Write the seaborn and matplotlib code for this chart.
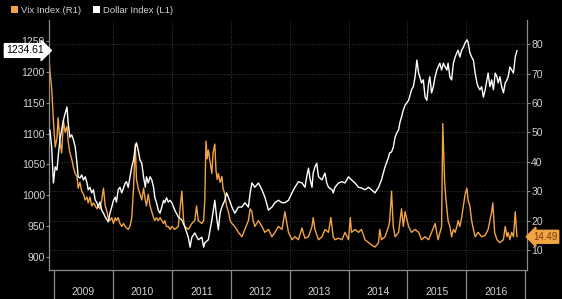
import matplotlib
matplotlib.use("Agg")
import matplotlib.pyplot as plt
import seaborn as sns
import numpy as np
from matplotlib.patches import Patch
from matplotlib.transforms import blended_transform_factory

# ---------------- data (decimal years) ----------------
dollar_year = [
    2008.93, 2008.96, 2008.99, 2009.02, 2009.05, 2009.07, 2009.10, 2009.13, 2009.16, 2009.19,
    2009.22, 2009.24, 2009.27, 2009.30, 2009.33, 2009.36, 2009.39, 2009.41, 2009.44, 2009.47,
    2009.50, 2009.53, 2009.56, 2009.58, 2009.61, 2009.64, 2009.67, 2009.70, 2009.73, 2009.75,
    2009.78, 2009.81, 2009.84, 2009.87, 2009.90, 2009.92, 2009.95, 2009.98, 2010.01, 2010.04,
    2010.06, 2010.09, 2010.12, 2010.15, 2010.18, 2010.21, 2010.23, 2010.26, 2010.29, 2010.32,
    2010.35, 2010.38, 2010.40, 2010.43, 2010.46, 2010.49, 2010.52, 2010.55, 2010.57, 2010.60,
    2010.63, 2010.66, 2010.69, 2010.71, 2010.74, 2010.77, 2010.80, 2010.83, 2010.86, 2010.88,
    2010.91, 2010.94, 2010.97, 2011.00, 2011.05, 2011.11, 2011.17, 2011.22, 2011.28, 2011.31,
    2011.34, 2011.39, 2011.45, 2011.51, 2011.54, 2011.56, 2011.62, 2011.68, 2011.73, 2011.76,
    2011.79, 2011.82, 2011.85, 2011.90, 2011.93, 2011.96, 2012.02, 2012.07, 2012.13, 2012.19,
    2012.24, 2012.30, 2012.33, 2012.36, 2012.41, 2012.47, 2012.53, 2012.58, 2012.64, 2012.70,
    2012.75, 2012.81, 2012.87, 2012.92, 2012.98, 2013.04, 2013.09, 2013.15, 2013.21, 2013.26,
    2013.29, 2013.32, 2013.35, 2013.38, 2013.40, 2013.43, 2013.46, 2013.49, 2013.55, 2013.60,
    2013.63, 2013.66, 2013.72, 2013.74, 2013.77, 2013.83, 2013.89, 2013.94, 2014.00, 2014.05,
    2014.11, 2014.17, 2014.22, 2014.28, 2014.34, 2014.39, 2014.45, 2014.51, 2014.56, 2014.59,
    2014.62, 2014.68, 2014.70, 2014.73, 2014.76, 2014.79, 2014.82, 2014.85, 2014.87, 2014.90,
    2014.93, 2014.96, 2015.02, 2015.07, 2015.10, 2015.13, 2015.16, 2015.19, 2015.21, 2015.24,
    2015.27, 2015.30, 2015.33, 2015.36, 2015.38, 2015.41, 2015.44, 2015.47, 2015.50, 2015.52,
    2015.55, 2015.58, 2015.61, 2015.64, 2015.67, 2015.69, 2015.72, 2015.75, 2015.78, 2015.81,
    2015.84, 2015.86, 2015.89, 2015.92, 2015.95, 2015.98, 2016.01, 2016.03, 2016.06, 2016.09,
    2016.12, 2016.15, 2016.18, 2016.20, 2016.23, 2016.26, 2016.29, 2016.32, 2016.35, 2016.37,
    2016.40, 2016.43, 2016.46, 2016.49, 2016.52, 2016.54, 2016.57, 2016.60, 2016.63, 2016.66,
    2016.69, 2016.71, 2016.74, 2016.77, 2016.80, 2016.83, 2016.86,
]
dollar_val = [
    1106, 1078, 1020, 1046, 1041, 1062, 1090, 1106, 1122, 1133,
    1143, 1117, 1094, 1098, 1090, 1078, 1052, 1030, 1028, 1033,
    1025, 1030, 1020, 1009, 1013, 1004, 1009, 992, 988, 981,
    989, 976, 971, 965, 960, 957, 971, 981, 992, 997,
    989, 1009, 1013, 1004, 1012, 1020, 1022, 1013, 1030, 1046,
    1057, 1078, 1085, 1073, 1057, 1052, 1030, 1013, 1030, 1020,
    1030, 1025, 1013, 997, 988, 976, 971, 981, 992, 988,
    996, 989, 992, 988, 976, 965, 960, 949, 932, 916,
    932, 939, 928, 932, 916, 923, 928, 960, 992, 965,
    944, 971, 981, 992, 1004, 997, 981, 971, 981, 981,
    988, 981, 1004, 1020, 1013, 1020, 1009, 997, 976, 981,
    988, 992, 988, 988, 992, 1004, 1013, 1022, 1020, 1013,
    1030, 1044, 1025, 1013, 1036, 1046, 1052, 1030, 1025, 1036,
    1020, 1013, 1009, 1004, 1013, 1020, 1022, 1020, 1030, 1025,
    1020, 1013, 1012, 1009, 1013, 1009, 1004, 1013, 1025, 1036,
    1046, 1062, 1069, 1070, 1078, 1094, 1101, 1106, 1117, 1127,
    1138, 1146, 1154, 1171, 1176, 1192, 1219, 1198, 1192, 1182,
    1187, 1159, 1154, 1182, 1192, 1166, 1176, 1192, 1203, 1208,
    1214, 1203, 1214, 1208, 1203, 1214, 1192, 1187, 1214, 1224,
    1231, 1235, 1224, 1235, 1240, 1247, 1252, 1248, 1231, 1224,
    1219, 1198, 1182, 1176, 1171, 1176, 1159, 1171, 1187, 1198,
    1176, 1187, 1171, 1198, 1192, 1182, 1192, 1176, 1166, 1182,
    1187, 1192, 1208, 1203, 1198, 1224, 1234.61,
]

vix_year = [
    2008.90, 2008.93, 2008.96, 2008.99, 2009.02, 2009.05, 2009.07, 2009.10, 2009.13, 2009.16,
    2009.19, 2009.22, 2009.24, 2009.27, 2009.30, 2009.33, 2009.36, 2009.39, 2009.41, 2009.44,
    2009.47, 2009.50, 2009.53, 2009.56, 2009.58, 2009.61, 2009.64, 2009.67, 2009.70, 2009.73,
    2009.75, 2009.78, 2009.81, 2009.84, 2009.87, 2009.90, 2009.92, 2009.95, 2009.98, 2010.01,
    2010.04, 2010.06, 2010.09, 2010.12, 2010.15, 2010.18, 2010.21, 2010.23, 2010.26, 2010.29,
    2010.32, 2010.35, 2010.38, 2010.40, 2010.43, 2010.46, 2010.49, 2010.52, 2010.55, 2010.57,
    2010.60, 2010.63, 2010.66, 2010.69, 2010.71, 2010.74, 2010.77, 2010.80, 2010.83, 2010.86,
    2010.88, 2010.91, 2010.94, 2010.97, 2011.00, 2011.05, 2011.11, 2011.17, 2011.20, 2011.22,
    2011.28, 2011.34, 2011.39, 2011.42, 2011.45, 2011.51, 2011.54, 2011.56, 2011.58, 2011.60,
    2011.62, 2011.65, 2011.68, 2011.70, 2011.73, 2011.75, 2011.77, 2011.79, 2011.82, 2011.85,
    2011.87, 2011.90, 2011.93, 2011.96, 2011.99, 2012.02, 2012.07, 2012.13, 2012.19, 2012.24,
    2012.30, 2012.33, 2012.36, 2012.38, 2012.41, 2012.47, 2012.53, 2012.58, 2012.64, 2012.70,
    2012.75, 2012.81, 2012.87, 2012.92, 2012.98, 2013.04, 2013.09, 2013.15, 2013.21, 2013.23,
    2013.26, 2013.32, 2013.38, 2013.40, 2013.43, 2013.49, 2013.55, 2013.60, 2013.66, 2013.70,
    2013.74, 2013.77, 2013.83, 2013.89, 2013.94, 2014.00, 2014.03, 2014.05, 2014.11, 2014.17,
    2014.22, 2014.28, 2014.34, 2014.39, 2014.45, 2014.51, 2014.53, 2014.56, 2014.62, 2014.68,
    2014.70, 2014.73, 2014.76, 2014.79, 2014.85, 2014.90, 2014.93, 2014.96, 2015.02, 2015.07,
    2015.13, 2015.19, 2015.24, 2015.30, 2015.36, 2015.41, 2015.47, 2015.52, 2015.58, 2015.60,
    2015.63, 2015.65, 2015.67, 2015.69, 2015.72, 2015.75, 2015.78, 2015.81, 2015.84, 2015.86,
    2015.89, 2015.92, 2015.95, 2015.98, 2016.01, 2016.03, 2016.06, 2016.09, 2016.12, 2016.15,
    2016.20, 2016.26, 2016.32, 2016.37, 2016.43, 2016.45, 2016.48, 2016.52, 2016.57, 2016.63,
    2016.66, 2016.69, 2016.71, 2016.74, 2016.77, 2016.80, 2016.83, 2016.86,
]
vix_val = [
    81, 71, 65, 54, 45, 48, 55, 47, 43, 54,
    50, 52, 47, 43, 41, 38, 36, 35, 31, 33,
    30, 29, 27, 28, 26, 28, 25, 26, 25, 24,
    25, 24, 27, 31, 25, 23, 21, 20, 21, 19,
    21, 20, 21, 19, 18, 19, 18, 17.5, 17, 18,
    21, 31, 46, 34, 31, 29, 27, 31, 27, 25,
    29, 25, 23, 21, 20, 21, 20, 21, 20, 19,
    20, 18, 18, 17, 18, 17, 18, 30, 20, 18,
    17, 19, 20, 25, 20, 19, 20, 27, 47, 41,
    44, 40, 36, 43, 46, 37, 34, 36, 33, 35,
    31, 29, 25, 23, 20, 19, 18, 16, 14.5, 17,
    20, 24, 23, 20, 18, 20, 18, 16, 17, 14.5,
    16, 18, 17, 23, 16, 13.5, 14.5, 13.5, 17.5, 16,
    14, 14.5, 18, 21, 17, 13.5, 14.5, 17, 16, 21,
    14.5, 13.5, 14, 13.5, 16, 13.5, 21, 16, 17, 16,
    17, 13.5, 12.5, 11.7, 11, 12.5, 17, 13.5, 14.5, 18,
    20, 30, 18, 14.5, 16, 24, 18, 23, 18, 16,
    17, 16, 13.5, 14.5, 13.5, 16, 19, 13.5, 18, 53,
    34, 28, 24, 20, 18, 14.5, 17, 16, 18, 20,
    18, 21, 25, 29, 31, 27, 25, 20, 17, 14.5,
    16, 14.5, 15, 17, 23, 26, 16, 13.5, 12.5, 13.5,
    18, 14.5, 16, 13.5, 16, 14.5, 23, 14.49,
]

year_bounds = [2009, 2010, 2011, 2012, 2013, 2014, 2015, 2016, 2017]
year_labels = ["2009", "2010", "2011", "2012", "2013", "2014", "2015", "2016"]
left_ticks = [900, 950, 1000, 1050, 1100, 1150, 1200, 1250]
right_ticks = [10, 20, 30, 40, 50, 60, 70, 80]
series_names = ["Vix Index (R1)", "Dollar Index (L1)"]

ORANGE = "#f2a444"
TXT = "#d2d2d2"
SPINE = "#8a8a8a"
GRID = "#505050"

# ---------------- figure ----------------
sns.set_style("dark")
plt.rcParams["font.family"] = ["Liberation Sans", "DejaVu Sans"]

fig = plt.figure(figsize=(5.62, 2.99), dpi=100, facecolor="black")
ax = fig.add_axes([49 / 562, 1 - 270 / 299, (527 - 49) / 562, 250 / 299])
ax.set_facecolor("black")
ax2 = ax.twinx()

ax2.grid(False)
ax.grid(False)
for v in right_ticks:
    ax2.axhline(v, color=GRID, lw=0.6, ls=(0, (1, 2)), zorder=0)
for yb in year_bounds[1:-1]:
    ax2.axvline(yb, color=GRID, lw=0.6, ls=(0, (1, 2)), zorder=0)

sns.lineplot(x=vix_year, y=vix_val, ax=ax2, color=ORANGE, lw=1.0, zorder=2)
sns.lineplot(x=dollar_year, y=dollar_val, ax=ax, color="white", lw=1.0, zorder=3)

ax.set_zorder(ax2.get_zorder() + 1)
ax.patch.set_visible(False)

ax.set_xlim(2008.915, 2017.03)
ax.set_ylim(879, 1284)
ax2.set_ylim(3.2, 88.2)

ax.set_yticks(left_ticks)
ax.set_yticklabels([str(t) for t in left_ticks])
ax.tick_params(axis="y", colors=SPINE, labelcolor=TXT, labelsize=7.5,
               length=2, width=0.8, direction="out", pad=1, left=True)
ax2.set_yticks(right_ticks)
ax2.set_yticklabels([str(t) for t in right_ticks])
ax2.tick_params(axis="y", colors=SPINE, labelcolor=TXT, labelsize=7.5,
                length=2, width=0.8, direction="out", pad=1, right=True)

ax.set_xticks(year_bounds)
ax.set_xticklabels([""] * len(year_bounds))
ax.set_xticks([y + 0.5 for y in year_bounds[:-1]], minor=True)
ax.set_xticklabels(year_labels, minor=True)
ax.tick_params(axis="x", which="major", length=22, width=0.9, colors=SPINE,
               direction="out", bottom=True)
ax.tick_params(axis="x", which="minor", length=0, labelcolor=TXT,
               labelsize=7.5, pad=12, bottom=True)

ax.set_xlabel("")
ax.set_ylabel("")
ax2.set_ylabel("")

for a in (ax, ax2):
    for s in a.spines.values():
        s.set_visible(False)
ax.spines["left"].set_visible(True)
ax.spines["bottom"].set_visible(True)
ax2.spines["right"].set_visible(True)
for s in (ax.spines["left"], ax.spines["bottom"], ax2.spines["right"]):
    s.set_color(SPINE)
    s.set_linewidth(0.9)

handles = [Patch(facecolor=ORANGE, edgecolor="none"),
           Patch(facecolor="white", edgecolor="none")]
fig.legend(handles, series_names, loc="upper left",
           bbox_to_anchor=(0.005, 1.01), ncol=2, frameon=False,
           fontsize=6.8, handlelength=0.7, handleheight=0.7,
           handletextpad=0.3, columnspacing=1.3, labelcolor=TXT)

trL = blended_transform_factory(fig.transFigure, ax.transData)
ax.text(44 / 562, dollar_val[-1], f"{dollar_val[-1]:.2f}", transform=trL,
        ha="right", va="center", fontsize=7.5, color="black", zorder=10,
        bbox=dict(boxstyle="rarrow,pad=0.18", fc="white", ec="white"),
        clip_on=False)
trR = blended_transform_factory(fig.transFigure, ax2.transData)
ax2.text(533 / 562, vix_val[-1], f"{vix_val[-1]:.2f}", transform=trR,
         ha="left", va="center", fontsize=7.0, color="#7a3a00", zorder=10,
         bbox=dict(boxstyle="larrow,pad=0.15", fc=ORANGE, ec=ORANGE),
         clip_on=False)

fig.savefig("out.png", dpi=100, facecolor="black")
